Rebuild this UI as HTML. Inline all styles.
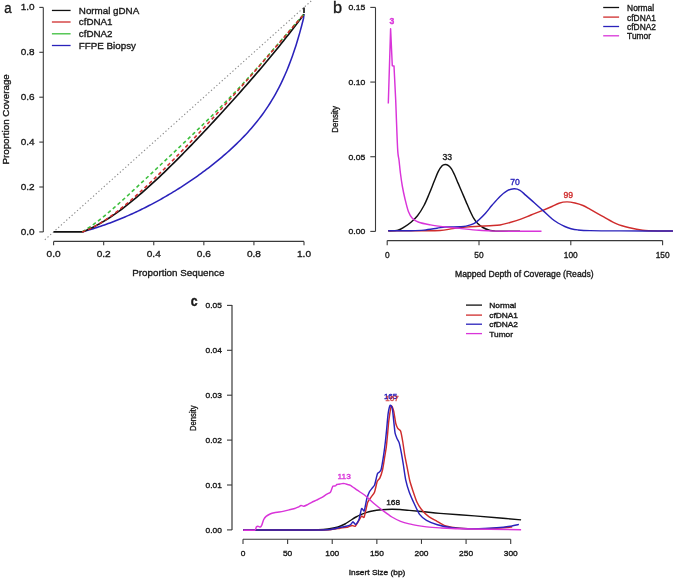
<!DOCTYPE html>
<html><head><meta charset="utf-8"><style>
html,body{margin:0;padding:0;background:#fff;}
body{width:675px;height:578px;overflow:hidden;}
svg{display:block;font-family:"Liberation Sans", sans-serif;will-change:transform;}
</style></head><body>
<svg width="675" height="578" viewBox="0 0 675 578">
<rect width="675" height="578" fill="#fff"/>
<line x1="43.30" y1="7.40" x2="43.30" y2="231.90" stroke="#3a3a3a" stroke-width="1.10"/>
<line x1="39.30" y1="231.90" x2="43.30" y2="231.90" stroke="#3a3a3a" stroke-width="1.10"/>
<text transform="translate(34.50 234.90) scale(1.02 1)" font-size="9.80" text-anchor="end" fill="#1a1a1a" stroke="#1a1a1a" stroke-width="0.35" font-weight="normal">0.0</text>
<line x1="39.30" y1="187.00" x2="43.30" y2="187.00" stroke="#3a3a3a" stroke-width="1.10"/>
<text transform="translate(34.50 190.00) scale(1.02 1)" font-size="9.80" text-anchor="end" fill="#1a1a1a" stroke="#1a1a1a" stroke-width="0.35" font-weight="normal">0.2</text>
<line x1="39.30" y1="142.10" x2="43.30" y2="142.10" stroke="#3a3a3a" stroke-width="1.10"/>
<text transform="translate(34.50 145.10) scale(1.02 1)" font-size="9.80" text-anchor="end" fill="#1a1a1a" stroke="#1a1a1a" stroke-width="0.35" font-weight="normal">0.4</text>
<line x1="39.30" y1="97.20" x2="43.30" y2="97.20" stroke="#3a3a3a" stroke-width="1.10"/>
<text transform="translate(34.50 100.20) scale(1.02 1)" font-size="9.80" text-anchor="end" fill="#1a1a1a" stroke="#1a1a1a" stroke-width="0.35" font-weight="normal">0.6</text>
<line x1="39.30" y1="52.30" x2="43.30" y2="52.30" stroke="#3a3a3a" stroke-width="1.10"/>
<text transform="translate(34.50 55.30) scale(1.02 1)" font-size="9.80" text-anchor="end" fill="#1a1a1a" stroke="#1a1a1a" stroke-width="0.35" font-weight="normal">0.8</text>
<line x1="39.30" y1="7.40" x2="43.30" y2="7.40" stroke="#3a3a3a" stroke-width="1.10"/>
<text transform="translate(34.50 10.40) scale(1.02 1)" font-size="9.80" text-anchor="end" fill="#1a1a1a" stroke="#1a1a1a" stroke-width="0.35" font-weight="normal">1.0</text>
<line x1="53.60" y1="241.40" x2="304.00" y2="241.40" stroke="#3a3a3a" stroke-width="1.10"/>
<line x1="53.60" y1="241.40" x2="53.60" y2="245.20" stroke="#3a3a3a" stroke-width="1.10"/>
<text transform="translate(53.60 257.20) scale(1.03 1)" font-size="9.80" text-anchor="middle" fill="#1a1a1a" stroke="#1a1a1a" stroke-width="0.35" font-weight="normal">0.0</text>
<line x1="103.68" y1="241.40" x2="103.68" y2="245.20" stroke="#3a3a3a" stroke-width="1.10"/>
<text transform="translate(103.68 257.20) scale(1.03 1)" font-size="9.80" text-anchor="middle" fill="#1a1a1a" stroke="#1a1a1a" stroke-width="0.35" font-weight="normal">0.2</text>
<line x1="153.76" y1="241.40" x2="153.76" y2="245.20" stroke="#3a3a3a" stroke-width="1.10"/>
<text transform="translate(153.76 257.20) scale(1.03 1)" font-size="9.80" text-anchor="middle" fill="#1a1a1a" stroke="#1a1a1a" stroke-width="0.35" font-weight="normal">0.4</text>
<line x1="203.84" y1="241.40" x2="203.84" y2="245.20" stroke="#3a3a3a" stroke-width="1.10"/>
<text transform="translate(203.84 257.20) scale(1.03 1)" font-size="9.80" text-anchor="middle" fill="#1a1a1a" stroke="#1a1a1a" stroke-width="0.35" font-weight="normal">0.6</text>
<line x1="253.92" y1="241.40" x2="253.92" y2="245.20" stroke="#3a3a3a" stroke-width="1.10"/>
<text transform="translate(253.92 257.20) scale(1.03 1)" font-size="9.80" text-anchor="middle" fill="#1a1a1a" stroke="#1a1a1a" stroke-width="0.35" font-weight="normal">0.8</text>
<line x1="304.00" y1="241.40" x2="304.00" y2="245.20" stroke="#3a3a3a" stroke-width="1.10"/>
<text transform="translate(304.00 257.20) scale(1.03 1)" font-size="9.80" text-anchor="middle" fill="#1a1a1a" stroke="#1a1a1a" stroke-width="0.35" font-weight="normal">1.0</text>
<text transform="translate(178.30 276.30)" font-size="9.80" text-anchor="middle" fill="#1a1a1a" stroke="#1a1a1a" stroke-width="0.35" font-weight="normal">Proportion Sequence</text>
<text transform="translate(9.40 119.40) rotate(-90)" font-size="9.80" text-anchor="middle" fill="#1a1a1a" stroke="#1a1a1a" stroke-width="0.35" font-weight="normal">Proportion Coverage</text>
<text transform="translate(4.30 12.60) scale(0.85 1)" font-size="15.50" text-anchor="start" fill="#1a1a1a" stroke="#1a1a1a" stroke-width="0.35" font-weight="normal">a</text>
<line x1="44.84" y1="239.76" x2="314.02" y2="-1.58" stroke="#8a8a8a" stroke-width="1.10" stroke-dasharray="1.3,2.3"/>
<path d="M82.15,231.90 L84.01,231.39 L85.87,230.87 L87.73,230.33 L89.59,229.78 L91.45,229.22 L93.31,228.65 L95.17,228.06 L97.03,227.46 L98.89,226.85 L100.75,226.22 L102.61,225.59 L104.47,224.94 L106.33,224.28 L108.19,223.60 L110.05,222.91 L111.91,222.22 L113.77,221.50 L115.63,220.78 L117.49,220.04 L119.35,219.29 L121.21,218.53 L123.07,217.75 L124.93,216.96 L126.79,216.16 L128.65,215.35 L130.51,214.52 L132.37,213.68 L134.23,212.83 L136.09,211.97 L137.95,211.09 L139.81,210.20 L141.67,209.30 L143.53,208.38 L145.39,207.45 L147.25,206.51 L149.11,205.56 L150.97,204.59 L152.83,203.61 L154.69,202.61 L156.55,201.61 L158.41,200.59 L160.27,199.56 L162.13,198.51 L163.99,197.45 L165.85,196.38 L167.71,195.29 L169.57,194.20 L171.43,193.08 L173.29,191.96 L175.15,190.82 L177.01,189.66 L178.87,188.49 L180.73,187.31 L182.59,186.12 L184.45,184.91 L186.31,183.68 L188.17,182.44 L190.03,181.19 L191.89,179.92 L193.75,178.63 L195.61,177.33 L197.47,176.02 L199.33,174.69 L201.19,173.34 L203.05,171.97 L204.91,170.59 L206.77,169.19 L208.63,167.77 L210.49,166.34 L212.35,164.88 L214.21,163.40 L216.07,161.91 L217.93,160.39 L219.79,158.85 L221.65,157.29 L223.51,155.71 L225.37,154.10 L227.23,152.47 L229.09,150.81 L230.95,149.12 L232.81,147.40 L234.67,145.65 L236.54,143.87 L238.40,142.06 L240.26,140.21 L242.12,138.32 L243.98,136.39 L245.84,134.42 L247.70,132.40 L249.56,130.33 L251.42,128.22 L253.28,126.04 L255.14,123.81 L257.00,121.51 L258.86,119.14 L260.72,116.71 L262.58,114.19 L264.44,111.59 L266.30,108.90 L268.16,106.10 L270.02,103.21 L271.88,100.20 L273.74,97.06 L275.60,93.80 L277.46,90.39 L279.32,86.82 L281.18,83.09 L283.04,79.17 L284.90,75.05 L286.76,70.72 L288.62,66.16 L290.48,61.34 L292.34,56.25 L294.20,50.87 L296.06,45.16 L297.92,39.09 L299.78,32.65 L301.64,25.79 L303.50,18.49 L304.00,14.14" fill="none" stroke="#2a22bb" stroke-width="1.55" stroke-linejoin="round" stroke-linecap="butt"/>
<path d="M53.60,231.90 L82.15,231.90 L84.63,230.95 L87.12,229.92 L89.61,228.82 L92.09,227.65 L94.58,226.41 L97.07,225.11 L99.56,223.75 L102.04,222.33 L104.53,220.84 L107.02,219.30 L109.50,217.71 L111.99,216.06 L114.48,214.37 L116.97,212.62 L119.45,210.83 L121.94,208.99 L124.43,207.11 L126.91,205.18 L129.40,203.22 L131.89,201.22 L134.38,199.17 L136.86,197.10 L139.35,194.99 L141.84,192.84 L144.32,190.67 L146.81,188.46 L149.30,186.23 L151.78,183.97 L154.27,181.68 L156.76,179.37 L159.25,177.03 L161.73,174.67 L164.22,172.28 L166.71,169.88 L169.19,167.45 L171.68,165.01 L174.17,162.55 L176.66,160.07 L179.14,157.57 L181.63,155.05 L184.12,152.52 L186.60,149.98 L189.09,147.42 L191.58,144.85 L194.07,142.26 L196.55,139.66 L199.04,137.05 L201.53,134.42 L204.01,131.79 L206.50,129.14 L208.99,126.48 L211.48,123.81 L213.96,121.12 L216.45,118.43 L218.94,115.73 L221.42,113.01 L223.91,110.29 L226.40,107.55 L228.89,104.80 L231.37,102.04 L233.86,99.27 L236.35,96.49 L238.83,93.70 L241.32,90.89 L243.81,88.07 L246.30,85.24 L248.78,82.39 L251.27,79.53 L253.76,76.65 L256.24,73.76 L258.73,70.86 L261.22,67.93 L263.71,64.99 L266.19,62.03 L268.68,59.06 L271.17,56.06 L273.65,53.04 L276.14,50.00 L278.63,46.94 L281.12,43.85 L283.60,40.74 L286.09,37.60 L288.58,34.44 L291.06,31.25 L293.55,28.02 L296.04,24.77 L298.52,21.49 L301.01,18.17 L303.50,14.82 L304.00,14.14" fill="none" stroke="#111111" stroke-width="1.65" stroke-linejoin="round" stroke-linecap="butt"/>
<path d="M82.15,231.90 L84.63,230.40 L87.12,228.81 L89.61,227.15 L92.09,225.41 L94.58,223.61 L97.07,221.74 L99.56,219.82 L102.04,217.85 L104.53,215.84 L107.02,213.78 L109.50,211.69 L111.99,209.56 L114.48,207.40 L116.97,205.21 L119.45,203.00 L121.94,200.77 L124.43,198.52 L126.91,196.26 L129.40,193.98 L131.89,191.69 L134.38,189.39 L136.86,187.08 L139.35,184.76 L141.84,182.44 L144.32,180.12 L146.81,177.79 L149.30,175.46 L151.78,173.12 L154.27,170.79 L156.76,168.45 L159.25,166.11 L161.73,163.78 L164.22,161.44 L166.71,159.10 L169.19,156.76 L171.68,154.41 L174.17,152.07 L176.66,149.72 L179.14,147.37 L181.63,145.02 L184.12,142.66 L186.60,140.30 L189.09,137.93 L191.58,135.55 L194.07,133.17 L196.55,130.78 L199.04,128.38 L201.53,125.98 L204.01,123.56 L206.50,121.13 L208.99,118.68 L211.48,116.23 L213.96,113.76 L216.45,111.27 L218.94,108.77 L221.42,106.25 L223.91,103.72 L226.40,101.16 L228.89,98.59 L231.37,96.00 L233.86,93.39 L236.35,90.76 L238.83,88.12 L241.32,85.45 L243.81,82.76 L246.30,80.05 L248.78,77.33 L251.27,74.58 L253.76,71.81 L256.24,69.03 L258.73,66.23 L261.22,63.41 L263.71,60.58 L266.19,57.73 L268.68,54.87 L271.17,52.00 L273.65,49.11 L276.14,46.22 L278.63,43.33 L281.12,40.43 L283.60,37.53 L286.09,34.64 L288.58,31.75 L291.06,28.86 L293.55,25.99 L296.04,23.14 L298.52,20.30 L301.01,17.49 L303.50,14.71 L304.00,14.14" fill="none" stroke="#3cbf3c" stroke-width="1.55" stroke-linejoin="round" stroke-linecap="butt" stroke-dasharray="3.6,2.8"/>
<path d="M82.15,231.90 L84.63,230.98 L87.12,229.97 L89.61,228.86 L92.09,227.66 L94.58,226.37 L97.07,225.00 L99.56,223.56 L102.04,222.04 L104.53,220.45 L107.02,218.80 L109.50,217.08 L111.99,215.31 L114.48,213.48 L116.97,211.59 L119.45,209.66 L121.94,207.68 L124.43,205.66 L126.91,203.59 L129.40,201.48 L131.89,199.34 L134.38,197.16 L136.86,194.95 L139.35,192.71 L141.84,190.44 L144.32,188.14 L146.81,185.82 L149.30,183.47 L151.78,181.10 L154.27,178.71 L156.76,176.30 L159.25,173.86 L161.73,171.41 L164.22,168.95 L166.71,166.46 L169.19,163.97 L171.68,161.45 L174.17,158.92 L176.66,156.38 L179.14,153.83 L181.63,151.26 L184.12,148.69 L186.60,146.10 L189.09,143.50 L191.58,140.89 L194.07,138.26 L196.55,135.63 L199.04,132.99 L201.53,130.34 L204.01,127.68 L206.50,125.01 L208.99,122.33 L211.48,119.63 L213.96,116.93 L216.45,114.23 L218.94,111.51 L221.42,108.78 L223.91,106.04 L226.40,103.29 L228.89,100.54 L231.37,97.77 L233.86,95.00 L236.35,92.21 L238.83,89.42 L241.32,86.62 L243.81,83.81 L246.30,80.99 L248.78,78.16 L251.27,75.32 L253.76,72.47 L256.24,69.62 L258.73,66.76 L261.22,63.89 L263.71,61.02 L266.19,58.14 L268.68,55.25 L271.17,52.36 L273.65,49.46 L276.14,46.56 L278.63,43.66 L281.12,40.75 L283.60,37.85 L286.09,34.94 L288.58,32.03 L291.06,29.13 L293.55,26.23 L296.04,23.33 L298.52,20.44 L301.01,17.56 L303.50,14.68 L304.00,14.14" fill="none" stroke="#cf2c2c" stroke-width="1.55" stroke-linejoin="round" stroke-linecap="butt" stroke-dasharray="3.6,2.8"/>
<line x1="304.00" y1="13.01" x2="304.00" y2="7.40" stroke="#111111" stroke-width="1.65"/>
<line x1="51.90" y1="10.45" x2="70.60" y2="10.45" stroke="#111111" stroke-width="1.30"/>
<text transform="translate(78.80 13.85)" font-size="9.80" text-anchor="start" fill="#1a1a1a" stroke="#1a1a1a" stroke-width="0.35" font-weight="normal">Normal gDNA</text>
<line x1="51.90" y1="22.00" x2="70.60" y2="22.00" stroke="#cf2c2c" stroke-width="1.30"/>
<text transform="translate(78.80 25.40)" font-size="9.80" text-anchor="start" fill="#1a1a1a" stroke="#1a1a1a" stroke-width="0.35" font-weight="normal">cfDNA1</text>
<line x1="51.90" y1="33.80" x2="70.60" y2="33.80" stroke="#3cbf3c" stroke-width="1.30"/>
<text transform="translate(78.80 37.20)" font-size="9.80" text-anchor="start" fill="#1a1a1a" stroke="#1a1a1a" stroke-width="0.35" font-weight="normal">cfDNA2</text>
<line x1="51.90" y1="45.50" x2="70.60" y2="45.50" stroke="#2a22bb" stroke-width="1.30"/>
<text transform="translate(78.80 48.90)" font-size="9.80" text-anchor="start" fill="#1a1a1a" stroke="#1a1a1a" stroke-width="0.35" font-weight="normal">FFPE Biopsy</text>
<line x1="375.50" y1="7.40" x2="375.50" y2="231.40" stroke="#3a3a3a" stroke-width="1.10"/>
<line x1="370.30" y1="231.40" x2="375.50" y2="231.40" stroke="#3a3a3a" stroke-width="1.10"/>
<text transform="translate(365.30 234.40) scale(1.12 1)" font-size="7.70" text-anchor="end" fill="#1a1a1a" stroke="#1a1a1a" stroke-width="0.35" font-weight="normal">0.00</text>
<line x1="370.30" y1="156.73" x2="375.50" y2="156.73" stroke="#3a3a3a" stroke-width="1.10"/>
<text transform="translate(365.30 159.73) scale(1.12 1)" font-size="7.70" text-anchor="end" fill="#1a1a1a" stroke="#1a1a1a" stroke-width="0.35" font-weight="normal">0.05</text>
<line x1="370.30" y1="82.07" x2="375.50" y2="82.07" stroke="#3a3a3a" stroke-width="1.10"/>
<text transform="translate(365.30 85.07) scale(1.12 1)" font-size="7.70" text-anchor="end" fill="#1a1a1a" stroke="#1a1a1a" stroke-width="0.35" font-weight="normal">0.10</text>
<line x1="370.30" y1="7.40" x2="375.50" y2="7.40" stroke="#3a3a3a" stroke-width="1.10"/>
<text transform="translate(365.30 10.40) scale(1.12 1)" font-size="7.70" text-anchor="end" fill="#1a1a1a" stroke="#1a1a1a" stroke-width="0.35" font-weight="normal">0.15</text>
<line x1="387.20" y1="240.60" x2="662.60" y2="240.60" stroke="#3a3a3a" stroke-width="1.10"/>
<line x1="387.20" y1="240.60" x2="387.20" y2="245.20" stroke="#3a3a3a" stroke-width="1.10"/>
<text transform="translate(387.20 258.00) scale(0.97 1)" font-size="8.60" text-anchor="middle" fill="#1a1a1a" stroke="#1a1a1a" stroke-width="0.35" font-weight="normal">0</text>
<line x1="479.00" y1="240.60" x2="479.00" y2="245.20" stroke="#3a3a3a" stroke-width="1.10"/>
<text transform="translate(479.00 258.00) scale(0.97 1)" font-size="8.60" text-anchor="middle" fill="#1a1a1a" stroke="#1a1a1a" stroke-width="0.35" font-weight="normal">50</text>
<line x1="570.80" y1="240.60" x2="570.80" y2="245.20" stroke="#3a3a3a" stroke-width="1.10"/>
<text transform="translate(570.80 258.00) scale(0.97 1)" font-size="8.60" text-anchor="middle" fill="#1a1a1a" stroke="#1a1a1a" stroke-width="0.35" font-weight="normal">100</text>
<line x1="662.60" y1="240.60" x2="662.60" y2="245.20" stroke="#3a3a3a" stroke-width="1.10"/>
<text transform="translate(662.60 258.00) scale(0.97 1)" font-size="8.60" text-anchor="middle" fill="#1a1a1a" stroke="#1a1a1a" stroke-width="0.35" font-weight="normal">150</text>
<text transform="translate(524.35 276.60)" font-size="8.60" text-anchor="middle" fill="#1a1a1a" stroke="#1a1a1a" stroke-width="0.35" font-weight="normal">Mapped Depth of Coverage (Reads)</text>
<text transform="translate(338.20 119.40) rotate(-90) scale(0.95 1)" font-size="8.40" text-anchor="middle" fill="#1a1a1a" stroke="#1a1a1a" stroke-width="0.35" font-weight="normal">Density</text>
<text transform="translate(333.10 12.80)" font-size="16.30" text-anchor="start" fill="#1a1a1a" stroke="#1a1a1a" stroke-width="0.35" font-weight="normal">b</text>
<path d="M388.20,230.80 C389.83,230.68 395.28,230.75 398.00,230.10 C400.72,229.45 402.33,228.20 404.50,226.90 C406.67,225.60 408.83,224.15 411.00,222.30 C413.17,220.45 415.33,218.60 417.50,215.80 C419.67,213.00 422.05,209.17 424.00,205.50 C425.95,201.83 427.47,197.92 429.20,193.80 C430.93,189.68 432.90,184.48 434.40,180.80 C435.90,177.12 436.92,174.20 438.20,171.70 C439.48,169.20 440.93,167.00 442.10,165.80 C443.27,164.60 444.13,164.53 445.20,164.50 C446.27,164.47 447.45,164.88 448.50,165.60 C449.55,166.32 450.53,167.35 451.50,168.80 C452.47,170.25 453.18,171.87 454.30,174.30 C455.42,176.73 456.90,180.37 458.20,183.40 C459.50,186.43 460.80,189.47 462.10,192.50 C463.40,195.53 464.70,198.58 466.00,201.60 C467.30,204.62 468.60,207.80 469.90,210.60 C471.20,213.40 472.50,216.23 473.80,218.40 C475.10,220.57 476.18,222.08 477.70,223.60 C479.22,225.12 480.95,226.38 482.90,227.50 C484.85,228.62 487.25,229.70 489.40,230.30 C491.55,230.90 490.70,230.93 495.80,231.10 C500.90,231.27 515.97,231.27 520.00,231.30" fill="none" stroke="#111111" stroke-width="1.45" stroke-linejoin="round" stroke-linecap="butt"/>
<path d="M388.20,230.90 C393.50,230.88 411.37,230.87 420.00,230.80 C428.63,230.73 434.50,230.87 440.00,230.50 C445.50,230.13 448.67,229.17 453.00,228.60 C457.33,228.03 461.67,227.48 466.00,227.10 C470.33,226.72 475.00,226.53 479.00,226.30 C483.00,226.07 486.50,225.92 490.00,225.70 C493.50,225.48 496.67,225.53 500.00,225.00 C503.33,224.47 506.42,223.52 510.00,222.50 C513.58,221.48 518.00,220.15 521.50,218.90 C525.00,217.65 527.45,216.42 531.00,215.00 C534.55,213.58 539.32,211.82 542.80,210.40 C546.28,208.98 549.20,207.70 551.90,206.50 C554.60,205.30 556.50,203.97 559.00,203.20 C561.50,202.43 564.23,201.93 566.90,201.90 C569.57,201.87 572.32,202.40 575.00,203.00 C577.68,203.60 580.38,204.40 583.00,205.50 C585.62,206.60 587.25,207.70 590.70,209.60 C594.15,211.50 599.37,214.52 603.70,216.90 C608.03,219.28 612.38,222.08 616.70,223.90 C621.02,225.72 625.28,226.75 629.60,227.80 C633.92,228.85 637.42,229.67 642.60,230.20 C647.78,230.73 655.63,230.85 660.70,231.00 C665.77,231.15 670.95,231.08 673.00,231.10" fill="none" stroke="#cf2c2c" stroke-width="1.45" stroke-linejoin="round" stroke-linecap="butt"/>
<path d="M388.20,230.80 C392.00,230.78 405.03,230.82 411.00,230.70 C416.97,230.58 419.67,230.52 424.00,230.10 C428.33,229.68 433.50,228.72 437.00,228.20 C440.50,227.68 442.33,227.20 445.00,227.00 C447.67,226.80 450.50,227.03 453.00,227.00 C455.50,226.97 457.83,226.95 460.00,226.80 C462.17,226.65 463.70,226.63 466.00,226.10 C468.30,225.57 471.63,224.67 473.80,223.60 C475.97,222.53 477.05,221.43 479.00,219.70 C480.95,217.97 483.33,215.60 485.50,213.20 C487.67,210.80 489.58,208.10 492.00,205.30 C494.42,202.50 497.50,198.82 500.00,196.40 C502.50,193.98 504.65,192.07 507.00,190.80 C509.35,189.53 511.93,188.88 514.10,188.80 C516.27,188.72 518.03,189.20 520.00,190.30 C521.97,191.40 523.57,193.37 525.90,195.40 C528.23,197.43 531.18,200.00 534.00,202.50 C536.82,205.00 539.82,207.70 542.80,210.40 C545.78,213.10 549.37,216.60 551.90,218.70 C554.43,220.80 555.85,221.70 558.00,223.00 C560.15,224.30 562.63,225.55 564.80,226.50 C566.97,227.45 568.83,228.13 571.00,228.70 C573.17,229.27 574.63,229.58 577.80,229.90 C580.97,230.22 582.97,230.43 590.00,230.60 C597.03,230.77 606.17,230.83 620.00,230.90 C633.83,230.97 664.17,230.98 673.00,231.00" fill="none" stroke="#2a22bb" stroke-width="1.45" stroke-linejoin="round" stroke-linecap="butt"/>
<path d="M388.30,103.40 L390.60,28.70 L392.30,65.70 L394.00,66.00 L395.70,100.00 L395.70,100.00 C396.02,108.07 397.05,138.40 397.60,148.40 C398.15,158.40 398.53,155.90 399.00,160.00 C399.47,164.10 399.85,168.67 400.40,173.00 C400.95,177.33 401.53,181.67 402.30,186.00 C403.07,190.33 403.98,194.75 405.00,199.00 C406.02,203.25 407.18,208.30 408.40,211.50 C409.62,214.70 410.57,216.40 412.30,218.20 C414.03,220.00 415.77,221.18 418.80,222.30 C421.83,223.42 426.13,224.13 430.50,224.90 C434.87,225.67 440.17,226.32 445.00,226.90 C449.83,227.48 453.83,227.83 459.50,228.40 C465.17,228.97 473.08,229.85 479.00,230.30 C484.92,230.75 484.58,230.93 495.00,231.10 C505.42,231.27 533.75,231.27 541.50,231.30" fill="none" stroke="#d934d9" stroke-width="1.45" stroke-linejoin="round" stroke-linecap="butt"/>
<text transform="translate(392.00 23.90)" font-size="8.60" text-anchor="middle" fill="#d934d9" stroke="#d934d9" stroke-width="0.35" font-weight="bold">3</text>
<text transform="translate(447.30 160.30)" font-size="8.60" text-anchor="middle" fill="#1a1a1a" stroke="#1a1a1a" stroke-width="0.35" font-weight="normal">33</text>
<text transform="translate(515.00 184.60)" font-size="8.60" text-anchor="middle" fill="#2a22bb" stroke="#2a22bb" stroke-width="0.35" font-weight="normal">70</text>
<text transform="translate(568.20 198.10)" font-size="8.60" text-anchor="middle" fill="#cf2c2c" stroke="#cf2c2c" stroke-width="0.35" font-weight="normal">99</text>
<line x1="603.20" y1="7.50" x2="619.10" y2="7.50" stroke="#111111" stroke-width="1.30"/>
<text transform="translate(627.10 10.90)" font-size="8.40" text-anchor="start" fill="#1a1a1a" stroke="#1a1a1a" stroke-width="0.35" font-weight="normal">Normal</text>
<line x1="603.20" y1="17.10" x2="619.10" y2="17.10" stroke="#cf2c2c" stroke-width="1.30"/>
<text transform="translate(627.10 20.50)" font-size="8.40" text-anchor="start" fill="#1a1a1a" stroke="#1a1a1a" stroke-width="0.35" font-weight="normal">cfDNA1</text>
<line x1="603.20" y1="26.50" x2="619.10" y2="26.50" stroke="#2a22bb" stroke-width="1.30"/>
<text transform="translate(627.10 29.90)" font-size="8.40" text-anchor="start" fill="#1a1a1a" stroke="#1a1a1a" stroke-width="0.35" font-weight="normal">cfDNA2</text>
<line x1="603.20" y1="35.80" x2="619.10" y2="35.80" stroke="#d934d9" stroke-width="1.30"/>
<text transform="translate(627.10 39.20)" font-size="8.40" text-anchor="start" fill="#1a1a1a" stroke="#1a1a1a" stroke-width="0.35" font-weight="normal">Tumor</text>
<line x1="232.00" y1="305.00" x2="232.00" y2="529.90" stroke="#3a3a3a" stroke-width="1.20"/>
<line x1="227.00" y1="529.90" x2="232.00" y2="529.90" stroke="#3a3a3a" stroke-width="1.10"/>
<text transform="translate(221.80 532.90) scale(1.12 1)" font-size="7.47" text-anchor="end" fill="#1a1a1a" stroke="#1a1a1a" stroke-width="0.35" font-weight="normal">0.00</text>
<line x1="227.00" y1="485.00" x2="232.00" y2="485.00" stroke="#3a3a3a" stroke-width="1.10"/>
<text transform="translate(221.80 488.00) scale(1.12 1)" font-size="7.47" text-anchor="end" fill="#1a1a1a" stroke="#1a1a1a" stroke-width="0.35" font-weight="normal">0.01</text>
<line x1="227.00" y1="440.10" x2="232.00" y2="440.10" stroke="#3a3a3a" stroke-width="1.10"/>
<text transform="translate(221.80 443.10) scale(1.12 1)" font-size="7.47" text-anchor="end" fill="#1a1a1a" stroke="#1a1a1a" stroke-width="0.35" font-weight="normal">0.02</text>
<line x1="227.00" y1="395.20" x2="232.00" y2="395.20" stroke="#3a3a3a" stroke-width="1.10"/>
<text transform="translate(221.80 398.20) scale(1.12 1)" font-size="7.47" text-anchor="end" fill="#1a1a1a" stroke="#1a1a1a" stroke-width="0.35" font-weight="normal">0.03</text>
<line x1="227.00" y1="350.30" x2="232.00" y2="350.30" stroke="#3a3a3a" stroke-width="1.10"/>
<text transform="translate(221.80 353.30) scale(1.12 1)" font-size="7.47" text-anchor="end" fill="#1a1a1a" stroke="#1a1a1a" stroke-width="0.35" font-weight="normal">0.04</text>
<line x1="227.00" y1="305.40" x2="232.00" y2="305.40" stroke="#3a3a3a" stroke-width="1.10"/>
<text transform="translate(221.80 308.40) scale(1.12 1)" font-size="7.47" text-anchor="end" fill="#1a1a1a" stroke="#1a1a1a" stroke-width="0.35" font-weight="normal">0.05</text>
<line x1="243.00" y1="539.20" x2="510.70" y2="539.20" stroke="#3a3a3a" stroke-width="1.10"/>
<line x1="243.00" y1="539.20" x2="243.00" y2="543.90" stroke="#3a3a3a" stroke-width="1.10"/>
<text transform="translate(243.00 556.30) scale(1.12 1)" font-size="7.47" text-anchor="middle" fill="#1a1a1a" stroke="#1a1a1a" stroke-width="0.35" font-weight="normal">0</text>
<line x1="287.62" y1="539.20" x2="287.62" y2="543.90" stroke="#3a3a3a" stroke-width="1.10"/>
<text transform="translate(287.62 556.30) scale(1.12 1)" font-size="7.47" text-anchor="middle" fill="#1a1a1a" stroke="#1a1a1a" stroke-width="0.35" font-weight="normal">50</text>
<line x1="332.23" y1="539.20" x2="332.23" y2="543.90" stroke="#3a3a3a" stroke-width="1.10"/>
<text transform="translate(332.23 556.30) scale(1.12 1)" font-size="7.47" text-anchor="middle" fill="#1a1a1a" stroke="#1a1a1a" stroke-width="0.35" font-weight="normal">100</text>
<line x1="376.85" y1="539.20" x2="376.85" y2="543.90" stroke="#3a3a3a" stroke-width="1.10"/>
<text transform="translate(376.85 556.30) scale(1.12 1)" font-size="7.47" text-anchor="middle" fill="#1a1a1a" stroke="#1a1a1a" stroke-width="0.35" font-weight="normal">150</text>
<line x1="421.47" y1="539.20" x2="421.47" y2="543.90" stroke="#3a3a3a" stroke-width="1.10"/>
<text transform="translate(421.47 556.30) scale(1.12 1)" font-size="7.47" text-anchor="middle" fill="#1a1a1a" stroke="#1a1a1a" stroke-width="0.35" font-weight="normal">200</text>
<line x1="466.08" y1="539.20" x2="466.08" y2="543.90" stroke="#3a3a3a" stroke-width="1.10"/>
<text transform="translate(466.08 556.30) scale(1.12 1)" font-size="7.47" text-anchor="middle" fill="#1a1a1a" stroke="#1a1a1a" stroke-width="0.35" font-weight="normal">250</text>
<line x1="510.70" y1="539.20" x2="510.70" y2="543.90" stroke="#3a3a3a" stroke-width="1.10"/>
<text transform="translate(510.70 556.30) scale(1.12 1)" font-size="7.47" text-anchor="middle" fill="#1a1a1a" stroke="#1a1a1a" stroke-width="0.35" font-weight="normal">300</text>
<text transform="translate(377.00 574.80) scale(1.12 1)" font-size="7.47" text-anchor="middle" fill="#1a1a1a" stroke="#1a1a1a" stroke-width="0.35" font-weight="normal">Insert Size (bp)</text>
<text transform="translate(196.10 418.20) rotate(-90) scale(0.92 1)" font-size="8.30" text-anchor="middle" fill="#1a1a1a" stroke="#1a1a1a" stroke-width="0.35" font-weight="normal">Density</text>
<text transform="translate(190.80 306.40) scale(0.82 1)" font-size="15.00" text-anchor="start" fill="#1a1a1a" stroke="#1a1a1a" stroke-width="0.35" font-weight="bold">c</text>
<path d="M243.20,530.00 C252.67,530.00 287.53,530.03 300.00,530.00 C312.47,529.97 313.33,529.97 318.00,529.80 C322.67,529.63 324.67,529.47 328.00,529.00 C331.33,528.53 335.17,527.83 338.00,527.00 C340.83,526.17 342.93,525.08 345.00,524.00 C347.07,522.92 348.57,521.67 350.40,520.50 C352.23,519.33 354.27,517.98 356.00,517.00 C357.73,516.02 359.13,515.33 360.80,514.60 C362.47,513.87 364.28,513.17 366.00,512.60 C367.72,512.03 368.52,511.68 371.10,511.20 C373.68,510.72 378.03,510.03 381.50,509.70 C384.97,509.37 388.82,509.23 391.90,509.20 C394.98,509.17 397.12,509.30 400.00,509.50 C402.88,509.70 404.78,509.98 409.20,510.40 C413.62,510.82 421.37,511.50 426.50,512.00 C431.63,512.50 432.02,512.75 440.00,513.40 C447.98,514.05 464.40,515.13 474.40,515.90 C484.40,516.67 492.22,517.33 500.00,518.00 C507.78,518.67 517.58,519.58 521.10,519.90" fill="none" stroke="#111111" stroke-width="1.45" stroke-linejoin="round" stroke-linecap="butt"/>
<path d="M243.20,530.00 C250.68,530.00 309.32,530.03 318.00,530.00 C326.68,529.97 327.80,529.88 330.00,529.70 C332.20,529.52 338.20,528.47 340.00,528.20 C341.80,527.93 346.80,527.27 348.00,527.00 C349.20,526.73 351.30,525.57 352.00,525.50 C352.70,525.43 354.40,526.65 355.00,526.30 C355.60,525.95 357.34,523.02 358.00,522.00 C358.66,520.98 360.98,516.60 361.60,516.10 C362.22,515.60 363.59,518.38 364.20,517.00 C364.81,515.62 367.01,504.29 367.70,502.30 C368.39,500.31 370.41,498.14 371.10,497.10 C371.79,496.06 373.99,493.46 374.60,491.90 C375.21,490.34 376.68,482.88 377.20,481.50 C377.72,480.12 379.27,479.25 379.80,478.10 C380.33,476.95 382.01,472.11 382.50,470.00 C382.99,467.89 384.32,459.30 384.70,457.00 C385.08,454.70 386.02,449.20 386.30,447.00 C386.58,444.80 387.25,437.62 387.50,435.00 C387.75,432.38 388.42,423.68 388.80,420.80 C389.18,417.92 390.81,407.17 391.30,406.20 C391.79,405.23 393.25,409.37 393.70,411.10 C394.15,412.83 395.39,421.77 395.80,423.50 C396.21,425.23 397.32,427.64 397.80,428.40 C398.28,429.16 400.11,429.79 400.60,431.10 C401.09,432.41 402.28,439.07 402.70,441.50 C403.12,443.93 404.32,452.63 404.80,455.40 C405.28,458.17 407.02,466.74 407.50,469.20 C407.98,471.66 409.08,477.90 409.60,480.00 C410.12,482.10 411.96,487.97 412.70,490.20 C413.44,492.43 416.14,500.40 417.00,502.30 C417.86,504.20 420.18,507.82 421.30,509.20 C422.42,510.58 426.64,514.89 428.20,516.10 C429.76,517.31 435.24,520.35 436.90,521.30 C438.56,522.25 442.53,524.91 444.80,525.60 C447.07,526.29 455.89,527.88 459.60,528.20 C463.31,528.52 477.46,528.84 481.90,528.80 C486.34,528.76 500.97,527.98 504.00,527.80 C507.03,527.62 511.38,527.08 512.20,527.00" fill="none" stroke="#cf2c2c" stroke-width="1.45" stroke-linejoin="round" stroke-linecap="butt"/>
<path d="M243.20,530.00 C250.68,530.00 309.32,530.05 318.00,530.00 C326.68,529.95 327.80,529.76 330.00,529.50 C332.20,529.24 338.50,527.70 340.00,527.40 C341.50,527.10 343.96,526.76 345.00,526.50 C346.04,526.24 349.60,525.27 350.40,524.80 C351.20,524.33 352.48,521.83 353.00,521.80 C353.52,521.77 355.00,524.72 355.60,524.50 C356.20,524.28 358.40,521.20 359.00,519.60 C359.60,518.00 361.08,509.37 361.60,508.50 C362.12,507.63 363.68,511.87 364.20,510.90 C364.72,509.93 366.28,500.70 366.80,498.80 C367.32,496.90 368.88,492.94 369.40,491.90 C369.92,490.86 371.48,489.09 372.00,488.40 C372.52,487.71 374.17,486.03 374.60,485.00 C375.03,483.97 376.00,479.26 376.30,478.10 C376.60,476.94 377.29,474.01 377.60,473.40 C377.91,472.79 379.04,472.42 379.40,472.00 C379.76,471.58 380.78,470.86 381.20,469.20 C381.62,467.54 383.18,458.17 383.60,455.40 C384.02,452.63 385.08,444.27 385.40,441.50 C385.72,438.73 386.53,430.47 386.80,427.70 C387.07,424.93 387.76,416.04 388.10,413.80 C388.44,411.56 389.78,405.85 390.20,405.30 C390.62,404.75 391.95,406.75 392.30,408.30 C392.65,409.85 393.42,418.31 393.70,420.80 C393.98,423.29 394.76,431.40 395.10,433.20 C395.44,435.00 396.69,437.83 397.10,438.80 C397.51,439.77 398.78,441.52 399.20,442.90 C399.62,444.28 400.88,450.39 401.30,452.60 C401.72,454.81 402.96,462.28 403.40,465.00 C403.84,467.72 405.12,477.11 405.70,479.80 C406.28,482.49 408.33,489.48 409.20,491.90 C410.07,494.32 413.36,501.75 414.40,504.00 C415.44,506.25 418.39,512.76 419.60,514.40 C420.81,516.04 424.72,519.36 426.50,520.40 C428.28,521.44 434.83,524.06 437.40,524.80 C439.97,525.54 448.50,527.40 452.20,527.80 C455.90,528.20 469.95,528.80 474.40,528.80 C478.85,528.80 493.14,528.05 496.70,527.80 C500.26,527.55 507.78,526.64 510.00,526.30 C512.22,525.96 518.01,524.59 518.90,524.40" fill="none" stroke="#2a22bb" stroke-width="1.45" stroke-linejoin="round" stroke-linecap="butt"/>
<path d="M243.30,530.20 C244.44,530.20 253.40,530.52 254.70,530.20 C256.00,529.88 255.98,527.40 256.30,527.00 C256.62,526.60 257.49,526.20 257.90,526.20 C258.31,526.20 259.99,527.16 260.40,527.00 C260.81,526.84 261.68,525.33 262.00,524.60 C262.32,523.87 263.19,520.52 263.60,519.70 C264.01,518.88 265.45,516.97 266.10,516.40 C266.75,515.83 269.29,514.37 270.10,514.00 C270.91,513.63 273.30,512.90 274.20,512.70 C275.10,512.50 278.12,512.16 279.10,512.00 C280.08,511.84 283.02,511.31 284.00,511.10 C284.98,510.89 287.92,510.13 288.90,509.90 C289.88,509.67 292.90,509.07 293.80,508.80 C294.70,508.53 297.17,507.53 297.90,507.20 C298.63,506.87 300.53,505.60 301.10,505.50 C301.67,505.40 303.03,506.25 303.60,506.20 C304.17,506.15 305.99,505.39 306.80,505.00 C307.61,504.61 310.72,502.79 311.70,502.30 C312.68,501.81 315.62,500.56 316.60,500.10 C317.58,499.64 320.52,498.27 321.50,497.70 C322.48,497.13 325.51,494.95 326.40,494.40 C327.29,493.85 329.83,492.84 330.40,492.20 C330.97,491.56 331.84,488.60 332.10,488.00 C332.36,487.40 332.66,486.41 333.00,486.20 C333.34,485.99 335.12,486.07 335.50,485.90 C335.88,485.73 336.46,484.67 336.80,484.50 C337.14,484.33 338.39,484.29 338.90,484.20 C339.41,484.11 341.31,483.66 341.90,483.60 C342.49,483.54 344.21,483.50 344.80,483.60 C345.39,483.70 347.24,484.43 347.80,484.60 C348.36,484.77 349.45,484.74 350.40,485.30 C351.35,485.86 355.74,489.11 357.30,490.20 C358.86,491.29 364.27,494.82 366.00,496.20 C367.73,497.58 372.87,502.53 374.60,504.00 C376.33,505.47 381.57,509.60 383.30,510.90 C385.03,512.20 390.17,515.96 391.90,517.00 C393.63,518.04 398.87,520.61 400.60,521.30 C402.33,521.99 407.47,523.47 409.20,523.90 C410.93,524.33 416.17,525.30 417.90,525.60 C419.63,525.90 424.29,526.67 426.50,526.90 C428.71,527.13 436.69,527.71 440.00,527.90 C443.31,528.09 451.49,528.62 459.60,528.80 C467.71,528.98 514.95,529.61 521.10,529.70" fill="none" stroke="#d934d9" stroke-width="1.45" stroke-linejoin="round" stroke-linecap="butt"/>
<text transform="translate(390.60 399.30) scale(1.12 1)" font-size="7.20" text-anchor="middle" fill="#2a22bb" stroke="#2a22bb" stroke-width="0.35" font-weight="normal">165</text>
<text transform="translate(392.00 401.40) scale(1.12 1)" font-size="7.20" text-anchor="middle" fill="#cf2c2c" stroke="#cf2c2c" stroke-width="0.35" font-weight="normal" opacity="0.8">167</text>
<text transform="translate(344.20 479.00) scale(1.05 1)" font-size="8.00" text-anchor="middle" fill="#d934d9" stroke="#d934d9" stroke-width="0.35" font-weight="normal">113</text>
<text transform="translate(393.20 504.90) scale(1.05 1)" font-size="8.00" text-anchor="middle" fill="#1a1a1a" stroke="#1a1a1a" stroke-width="0.35" font-weight="normal">168</text>
<line x1="466.00" y1="305.10" x2="482.00" y2="305.10" stroke="#111111" stroke-width="1.30"/>
<text transform="translate(489.20 308.10) scale(1.12 1)" font-size="7.47" text-anchor="start" fill="#1a1a1a" stroke="#1a1a1a" stroke-width="0.35" font-weight="normal">Normal</text>
<line x1="466.00" y1="315.10" x2="482.00" y2="315.10" stroke="#cf2c2c" stroke-width="1.30"/>
<text transform="translate(489.20 318.10) scale(1.12 1)" font-size="7.47" text-anchor="start" fill="#1a1a1a" stroke="#1a1a1a" stroke-width="0.35" font-weight="normal">cfDNA1</text>
<line x1="466.00" y1="324.20" x2="482.00" y2="324.20" stroke="#2a22bb" stroke-width="1.30"/>
<text transform="translate(489.20 327.20) scale(1.12 1)" font-size="7.47" text-anchor="start" fill="#1a1a1a" stroke="#1a1a1a" stroke-width="0.35" font-weight="normal">cfDNA2</text>
<line x1="466.00" y1="333.60" x2="482.00" y2="333.60" stroke="#d934d9" stroke-width="1.30"/>
<text transform="translate(489.20 336.60) scale(1.12 1)" font-size="7.47" text-anchor="start" fill="#1a1a1a" stroke="#1a1a1a" stroke-width="0.35" font-weight="normal">Tumor</text>
</svg>
</body></html>
